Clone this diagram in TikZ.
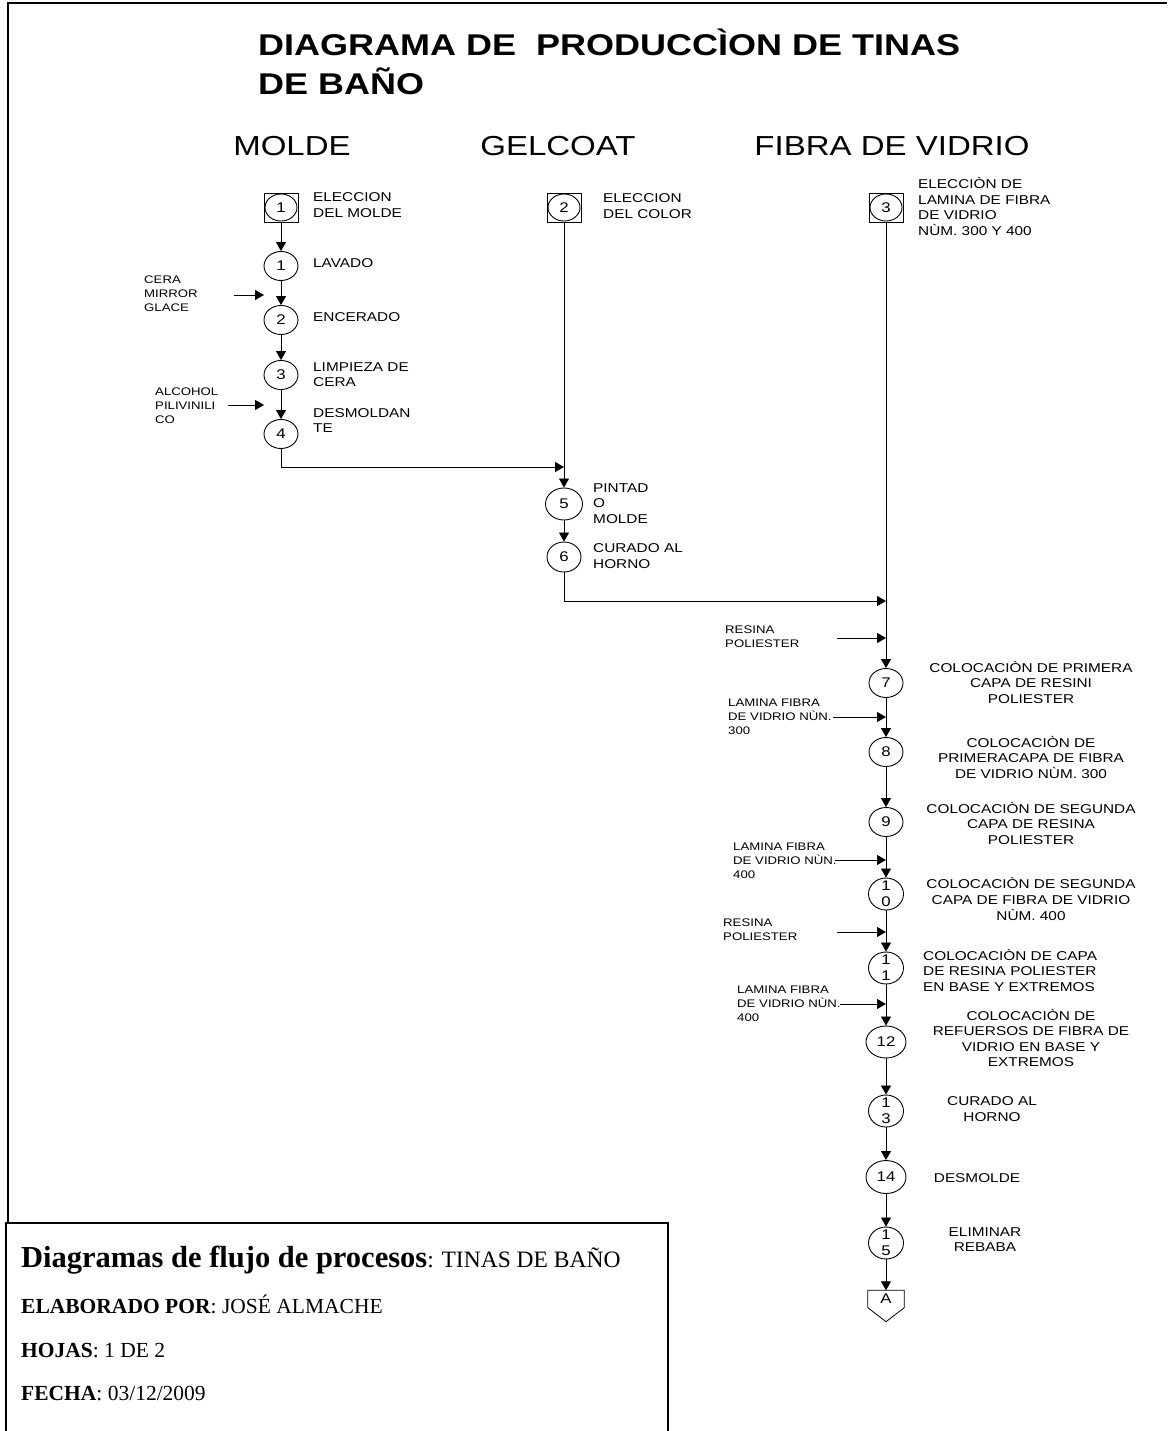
\documentclass[tikz,border=0pt]{standalone}
\usepackage{fontspec}
\setmainfont{Liberation Serif}
\newfontfamily\arial[FakeStretch=1.2]{Liberation Sans}
\usetikzlibrary{arrows.meta,shapes.geometric}
\tikzset{
  arr/.style={-{Triangle[length=9pt,width=10pt]}, line width=0.8pt},
  op/.style={draw, ellipse, line width=0.9pt, minimum width=34pt, minimum height=29pt, inner sep=0pt,
             font=\arial\fontsize{14}{14}\selectfont},
  sq/.style={draw, rectangle, line width=0.6pt, minimum width=34pt, minimum height=29pt, inner sep=0pt,
             font=\arial\fontsize{14}{14}\selectfont,
             path picture={\draw[line width=0.9pt] (path picture bounding box.center) ellipse (16pt and 13.5pt);}},
  dig/.style={align=center, inner sep=0pt, font=\arial\fontsize{14}{16}\selectfont},
  lbl/.style={anchor=west, align=left, inner sep=0pt, font=\arial\fontsize{12.8}{15.6}\selectfont},
  lblc/.style={align=center, inner sep=0pt, font=\arial\fontsize{12.8}{15.6}\selectfont},
  sml/.style={anchor=west, align=left, inner sep=0pt, font=\arial\fontsize{11}{14}\selectfont},
  head/.style={anchor=base, inner sep=0pt, font=\arial\fontsize{27.5}{30}\selectfont},
  ttl/.style={anchor=base west, inner sep=0pt, font=\arial\bfseries\fontsize{30}{32}\selectfont},
  info/.style={anchor=base west, inner sep=0pt, font=\fontsize{21.5}{24}\selectfont},
}
\begin{document}
\begin{tikzpicture}[x=1pt,y=-1pt]
\useasboundingbox (0,0) rectangle (1167,1431);
% frame
\draw[line width=1.6pt] (8,1223) -- (8,3) -- (1167,3);
\draw[line width=1.6pt] (6,1433) -- (6,1223) -- (668,1223) -- (668,1433);
% title
\node[ttl] (t1) at (258,55.5) {DIAGRAMA DE\ \ PRODUCCÌON DE TINAS};
\node[ttl] (t2) at (258,94.5) {DE BAÑO};
\node[head] (h1) at (292,155.5) {MOLDE};
\node[head] (h2) at (558,155.5) {GELCOAT};
\node[head] (h3) at (892,155.5) {FIBRA DE VIDRIO};

% MOLDE column
\node[sq] (s1) at (281,207.5) {1};
\node[op] (c1) at (281,266) {1};
\node[op] (c2) at (281,320) {2};
\node[op] (c3) at (281,375) {3};
\node[op] (c4) at (281,434) {4};
\node[lbl] (l1) at (313,205) {ELECCION\\DEL MOLDE};
\node[lbl] (l2) at (313,263) {LAVADO};
\node[lbl] (l3) at (313,317) {ENCERADO};
\node[lbl] (l4) at (313,374.5) {LIMPIEZA DE\\CERA};
\node[lbl] (l5) at (313,420.5) {DESMOLDAN\\TE};
\node[sml] (m1) at (144,293.5) {CERA\\MIRROR\\GLACE};
\node[sml] (m2) at (155,406) {ALCOHOL\\PILIVINILI\\CO};
\coordinate (i1s) at (234,295); \coordinate (i1e) at (264,295);
\coordinate (i2s) at (228,405); \coordinate (i2e) at (264,405);
\draw[arr] (i1s) -- (i1e);
\draw[arr] (i2s) -- (i2e);
\draw[arr] (s1) -- (c1);
\draw[arr] (c1) -- (c2);
\draw[arr] (c2) -- (c3);
\draw[arr] (c3) -- (c4);

% GELCOAT column
\node[sq] (s2) at (564,207.5) {2};
\node[op, minimum width=37pt, minimum height=32pt] (c5) at (564,504) {5};
\node[op, minimum height=30pt] (c6) at (564,557) {6};
\node[lbl] (g1) at (603,206) {ELECCION\\DEL COLOR};
\node[lbl] (g2) at (593,503.5) {PINTAD\\O\\MOLDE};
\node[lbl] (g3) at (593,556) {CURADO AL\\HORNO};
\coordinate (j1) at (564,467);
\draw[arr] (c4.south) |- (j1);
\draw[arr] (s2) -- (c5);
\draw[arr] (c5) -- (c6);

% FIBRA column
\node[sq] (s3) at (886,207.5) {3};
\node[lbl] (f0) at (918,206.5) {ELECCIÒN DE\\LAMINA DE FIBRA\\DE VIDRIO\\NÙM. 300 Y 400};
\coordinate (j2) at (886,601);
\draw[arr] (c6.south) |- (j2);

\node[op] (c7) at (886,683) {7};
\node[op] (c8) at (886,752) {8};
\node[op] (c9) at (886,822) {9};
\node[op, minimum width=35pt, minimum height=32pt] (c10) at (886,894) {};
\node[dig] (d10) at (c10) {1\\0};
\node[op, minimum width=35pt, minimum height=32pt] (c11) at (886,968) {};
\node[dig] (d11) at (c11) {1\\1};
\node[op, minimum width=40pt, minimum height=32pt] (c12) at (886,1042) {12};
\node[op, minimum width=35pt, minimum height=32pt] (c13) at (886,1111) {};
\node[dig] (d13) at (c13) {1\\3};
\node[op, minimum width=40pt, minimum height=33pt] (c14) at (886,1177) {14};
\node[op, minimum width=35pt, minimum height=32pt] (c15) at (886,1243) {};
\node[dig] (d15) at (c15) {1\\5};
\node[minimum width=36pt, minimum height=17pt, inner sep=0pt, font=\arial\fontsize{14}{14}\selectfont] (A) at (886,1299) {A};
\draw[line width=0.8pt] (A.north west) -- (A.north east) -- (A.south east) -- ([yshift=-14pt]A.south) -- (A.south west) -- cycle;

\node[lblc] (f7) at (1031,682.5) {COLOCACIÒN DE PRIMERA\\CAPA DE RESINI\\POLIESTER};
\node[lblc] (f8) at (1031,757.5) {COLOCACIÒN DE\\PRIMERACAPA DE FIBRA\\DE VIDRIO NÙM. 300};
\node[lblc] (f9) at (1031,823.5) {COLOCACIÒN DE SEGUNDA\\CAPA DE RESINA\\POLIESTER};
\node[lblc] (f10) at (1031,899) {COLOCACIÒN DE SEGUNDA\\CAPA DE FIBRA DE VIDRIO\\NÙM. 400};
\node[lbl] (f11) at (923,970.5) {COLOCACIÒN DE CAPA\\DE RESINA POLIESTER\\EN BASE Y EXTREMOS};
\node[lblc] (f12) at (1031,1038) {COLOCACIÒN DE\\REFUERSOS DE FIBRA DE\\VIDRIO EN BASE Y\\EXTREMOS};
\node[lblc] (f13) at (992,1109) {CURADO AL\\HORNO};
\node[lblc] (f14) at (977,1178) {DESMOLDE};
\node[lblc] (f15) at (985,1239.5) {ELIMINAR\\REBABA};

\node[sml] (n1) at (725,637) {RESINA\\POLIESTER};
\node[sml] (n2) at (728,716.5) {LAMINA FIBRA\\DE VIDRIO NÙN.\\300};
\node[sml] (n3) at (733,861) {LAMINA FIBRA\\DE VIDRIO NÙN.\\400};
\node[sml] (n4) at (723,930) {RESINA\\POLIESTER};
\node[sml] (n5) at (737,1003.5) {LAMINA FIBRA\\DE VIDRIO NÙN.\\400};
\coordinate (k1s) at (837,638);  \coordinate (k1e) at (886,638);
\coordinate (k2s) at (833,717);  \coordinate (k2e) at (886,717);
\coordinate (k3s) at (835,860);  \coordinate (k3e) at (886,860);
\coordinate (k4s) at (837,932);  \coordinate (k4e) at (886,932);
\coordinate (k5s) at (840,1004); \coordinate (k5e) at (886,1004);
\draw[arr] (k1s) -- (k1e);
\draw[arr] (k2s) -- (k2e);
\draw[arr] (k3s) -- (k3e);
\draw[arr] (k4s) -- (k4e);
\draw[arr] (k5s) -- (k5e);

\draw[arr] (s3) -- (c7);
\draw[arr] (c7) -- (c8);
\draw[arr] (c8) -- (c9);
\draw[arr] (c9) -- (c10);
\draw[arr] (c10) -- (c11);
\draw[arr] (c11) -- (c12);
\draw[arr] (c12) -- (c13);
\draw[arr] (c13) -- (c14);
\draw[arr] (c14) -- (c15);
\draw[arr] (c15) -- (A.north);

% info box
\node[info] (b1) at (21,1267) {{\bfseries\fontsize{30.5}{32}\selectfont Diagramas de flujo de procesos}{\fontsize{23.5}{24}\selectfont: TINAS DE BAÑO}};
\node[info] (b2) at (21,1313.5) {\textbf{ELABORADO POR}: JOSÉ ALMACHE};
\node[info] (b3) at (21,1357.5) {\textbf{HOJAS}: 1 DE 2};
\node[info] (b4) at (21,1400.5) {\textbf{FECHA}: 03/12/2009};
\end{tikzpicture}
\end{document}
